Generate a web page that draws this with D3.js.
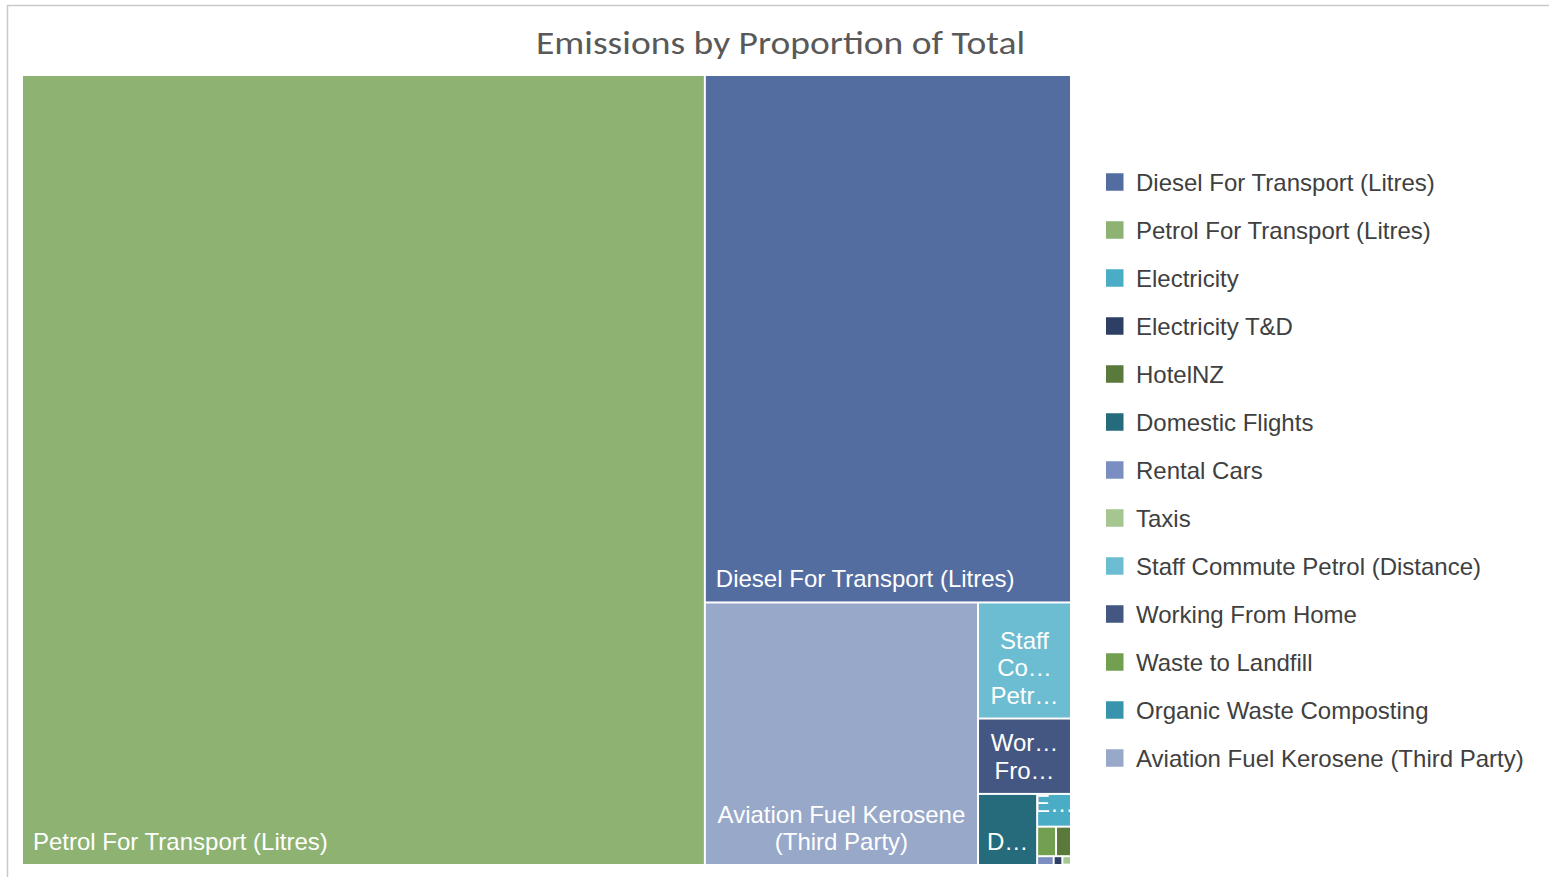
<!DOCTYPE html>
<html><head><meta charset="utf-8">
<script src="https://cdn.jsdelivr.net/npm/d3@7"></script>
<style>body{margin:0;background:#fff;} svg{display:block}</style>
</head><body><svg id="c" width="1549" height="877"></svg>
<script>
const title = "Emissions by Proportion of Total";
const categories = [
  "Diesel For Transport (Litres)",
  "Petrol For Transport (Litres)",
  "Electricity",
  "Electricity T&D",
  "HotelNZ",
  "Domestic Flights",
  "Rental Cars",
  "Taxis",
  "Staff Commute Petrol (Distance)",
  "Working From Home",
  "Waste to Landfill",
  "Organic Waste Composting",
  "Aviation Fuel Kerosene (Third Party)"
];
const values = [192253, 537022, 1104, 76, 440, 4183, 145, 73, 10741, 6975, 555, 3, 71395];
const colors = ["#546DA1","#8DB271","#4BACC6","#2E3F65","#5A7A3B","#256B7B","#7A8EC2","#A6C68F","#6CBDD2","#435782","#739F51","#3794AC","#97A8C9"];

const svg = d3.select("#c");
// chart frame
svg.append("rect").attr("x",7.5).attr("y",5.5).attr("width",1700).attr("height",1000)
  .attr("fill","none").attr("stroke","#c9c9c9").attr("stroke-width",1.5);

svg.append("text").attr("x",780.5).attr("y",54).attr("text-anchor","middle")
  .attr("font-family","Carlito, Calibri, Lato, 'Open Sans', sans-serif")
  .attr("font-size",33).attr("fill","#595959")
  .attr("textLength",489).attr("lengthAdjust","spacingAndGlyphs")
  .text(title);

const OX = 22, OY = 75;
const data = categories.map((c,i)=>({name:c, value:values[i], color:colors[i]}));
const root = d3.hierarchy({children:data}).sum(d=>d.value||0).sort((a,b)=>b.value-a.value);
d3.treemap().tile(d3.treemapSquarify.ratio(1)).size([1049,790])(root);

const fontFamily = "'Liberation Sans', Arial, sans-serif";
const fs = 24, lh = 27.5;
const ctx = document.createElement("canvas").getContext("2d");
ctx.font = fs + "px " + fontFamily;
const measure = s => ctx.measureText(s).width;

function layoutLabel(text, avail, maxLines){
  const words = text.split(" ");
  const lines = []; let cur = "";
  for (const w of words){
    const t = cur ? cur + " " + w : w;
    if (!cur || measure(t) <= avail) cur = t; else { lines.push(cur); cur = w; }
  }
  if (cur) lines.push(cur);
  const more = lines.length > maxLines;
  const out = lines.slice(0, maxLines);
  return out.map((l,i)=>{
    const need = measure(l) > avail || (more && i === out.length-1);
    if (!need) return l;
    let s = l;
    while (s.length > 1 && measure(s + "…") > avail) s = s.slice(0,-1);
    return s.replace(/\s+$/,"") + "…";
  });
}

const leaves = root.leaves();
const defs = svg.append("defs");
const g = svg.append("g");
leaves.forEach((d,i)=>{
  const x0 = d.x0+OX, x1 = d.x1+OX, y0 = d.y0+OY, y1 = d.y1+OY;
  const w = x1-x0, h = y1-y0;
  if (w <= 0 || h <= 0) return;
  g.append("rect").attr("x",x0+1).attr("y",y0+1)
    .attr("width",Math.max(0,w-2)).attr("height",Math.max(0,h-2))
    .attr("fill",d.data.color);
  if (w < 30 || h < 25) return;
  const id = "clip"+i;
  defs.append("clipPath").attr("id",id).append("rect")
    .attr("x",x0+1).attr("y",y0+1).attr("width",w-2).attr("height",h-2);
  const avail = w - 20;
  const maxLines = Math.max(1, Math.floor((h-19)/lh));
  const lines = layoutLabel(d.data.name, avail, maxLines);
  const single = lines.length === 1 && lines[0] === d.data.name;
  let lastBase = y1 - 15;
  const blockH = lines.length*lh;
  if (blockH + 4 > h) {
    lastBase = (y0+y1)/2 - blockH/2 + (lines.length-1)*lh + lh/2 + fs*0.35;
  }
  const t = g.append("text").attr("clip-path","url(#"+id+")")
    .attr("font-family",fontFamily).attr("font-size",fs).attr("fill","#ffffff")
    .attr("text-anchor", single ? "start" : "middle");
  lines.forEach((l,k)=>{
    t.append("tspan").attr("x", single ? x0+11 : (x0+x1)/2)
      .attr("y", lastBase - (lines.length-1-k)*lh).text(l);
  });
});

// legend
const lg = svg.append("g");
categories.forEach((c,i)=>{
  const cy = 182 + i*48;
  lg.append("rect").attr("x",1106).attr("y",cy-8.75).attr("width",17.5).attr("height",17.5)
    .attr("fill",colors[i]);
  lg.append("text").attr("x",1136).attr("y",cy+8.5)
    .attr("font-family",fontFamily).attr("font-size",24).attr("fill","#404040").text(c);
});
</script>
</body></html>
